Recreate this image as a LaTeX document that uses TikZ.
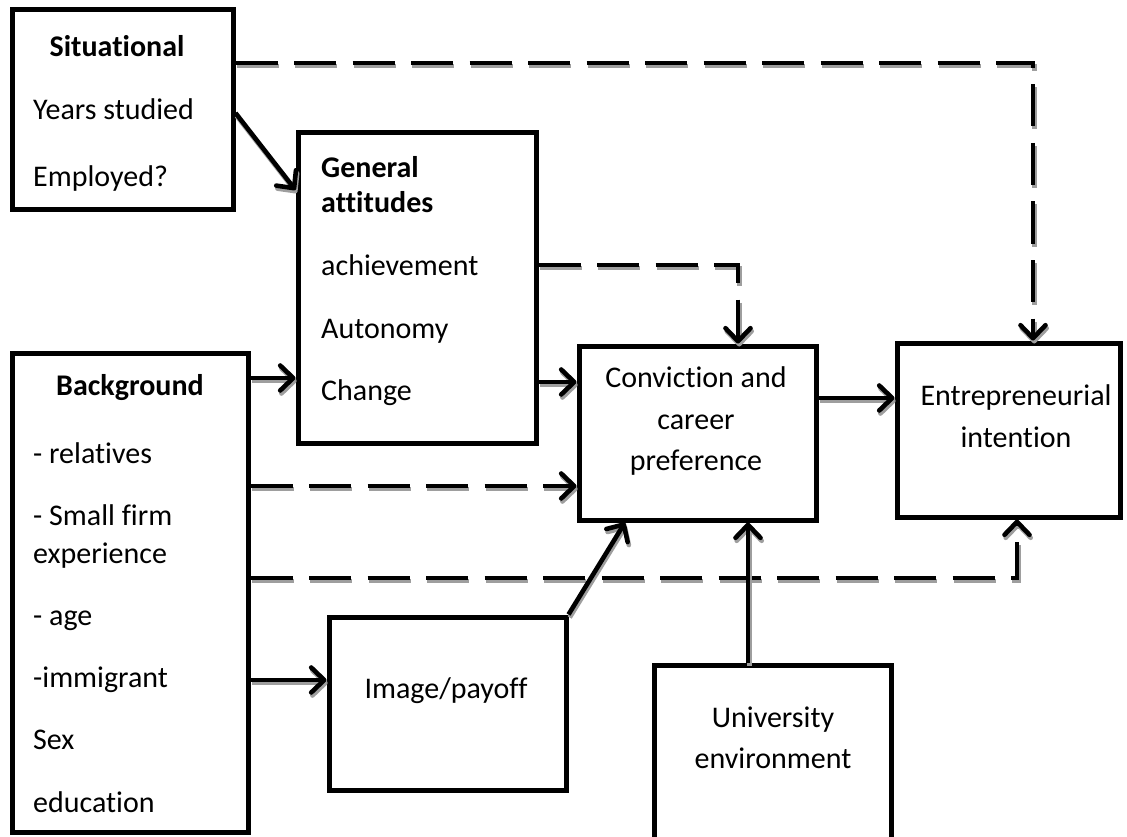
\documentclass[tikz,border=0pt]{standalone}
\usepackage{fontspec}
\setmainfont[Ligatures={NoCommon}]{Carlito}
\usetikzlibrary{arrows.meta}
\newcommand\sconn[2]{%
  \draw[#1, draw=black!38, transform canvas={shift={(1.2pt,-3pt)}}] #2;
  \draw[#1] #2;}
\begin{document}
\begin{tikzpicture}[x=1pt,y=-1pt,
  box/.style={draw, line width=5pt, inner sep=0pt},
  txt/.style={font=\fontsize{30}{36}\selectfont, inner sep=0pt, anchor=base},
  ltxt/.style={txt, anchor=base west},
  btxt/.style={txt, font=\fontsize{30}{36}\selectfont\bfseries},
  conn/.style={line width=4.6pt, -{Straight Barb[length=13pt,width=25pt,round]}},
  dsh/.style={dash pattern=on 42pt off 16.5pt}
]
\useasboundingbox (0,0) rectangle (1127,837);

% boxes
\node[box, minimum width=221pt, minimum height=200pt] (sit) at (122.5,110) {};
\node[box, minimum width=238pt, minimum height=310pt] (gen) at (417,288) {};
\node[box, minimum width=236pt, minimum height=479pt] (bg) at (130,592.5) {};
\node[box, minimum width=237pt, minimum height=174pt] (conv) at (697.5,433) {};
\node[box, minimum width=223pt, minimum height=174pt] (ent) at (1008.5,430) {};
\node[box, minimum width=237pt, minimum height=173pt] (img) at (447.5,703.5) {};
\node[box, minimum width=237pt, minimum height=190pt] (uni) at (772.5,760) {};

% texts
\node[btxt] (t1) at (117,57) {Situational};
\node[ltxt] (t2) at (33,120) {Years studied};
\node[ltxt] (t3) at (33,187) {Employed?};

\node[btxt, anchor=base west] (t4) at (321,178) {General};
\node[btxt, anchor=base west] (t5) at (321,213) {attitudes};
\node[ltxt] (t6) at (321,275) {achievement};
\node[ltxt] (t7) at (321,338) {Autonomy};
\node[ltxt] (t8) at (321,400) {Change};

\node[btxt] (t9) at (130,395) {Background};
\node[ltxt] (t10) at (33,463) {- relatives};
\node[ltxt] (t11) at (33,525) {- Small firm};
\node[ltxt] (t12) at (33,563) {experience};
\node[ltxt] (t13) at (33,625) {- age};
\node[ltxt] (t14) at (33,687) {-immigrant};
\node[ltxt] (t15) at (33,749) {Sex};
\node[ltxt] (t16) at (33,812) {education};

\node[txt] (t17) at (696,387) {Conviction and};
\node[txt] (t18) at (696,429) {career};
\node[txt] (t19) at (696,470) {preference};

\node[txt] (t20) at (1016,405) {Entrepreneurial};
\node[txt] (t21) at (1016,447) {intention};

\node[txt] (t22) at (446,698) {Image/payoff};

\node[txt] (t23) at (773,727) {University};
\node[txt] (t24) at (773,768) {environment};

% connectors
\sconn{conn}{(sit.east |- 0,113) -- (gen.west |- 0,190)}
\sconn{conn,dsh}{(sit.east |- 0,63) -| (1033,0 |- ent.north)}
\sconn{conn,dsh}{(gen.east |- 0,265) -| (738,0 |- conv.north)}
\sconn{conn}{(bg.east |- 0,378) -- (gen.west |- 0,378)}
\sconn{conn}{(gen.east |- 0,382) -- (conv.west |- 0,382)}
\sconn{conn}{(conv.east |- 0,398) -- (ent.west |- 0,398)}
\sconn{conn,dsh}{(bg.east |- 0,486) -- (conv.west |- 0,486)}
\sconn{conn,dsh}{(bg.east |- 0,578) -| (1017,0 |- ent.south)}
\sconn{conn}{(bg.east |- 0,680) -- (img.west |- 0,680)}
\sconn{conn}{(img.north east) -- (625,0 |- conv.south)}
\sconn{conn}{(748,0 |- uni.north) -- (748,0 |- conv.south)}
\end{tikzpicture}
\end{document}
